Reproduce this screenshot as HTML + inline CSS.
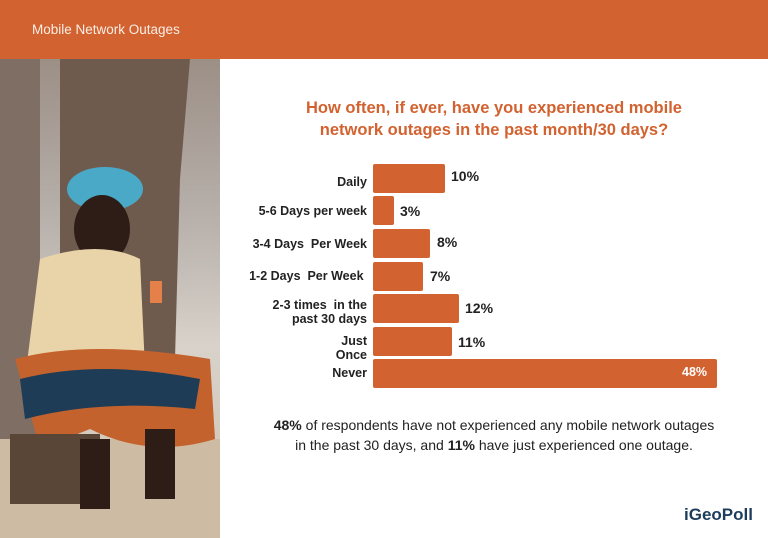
<!DOCTYPE html>
<html><head><meta charset="utf-8"><style>
*{margin:0;padding:0;box-sizing:border-box}
body{width:768px;height:538px;position:relative;background:#fff;font-family:"Liberation Sans",sans-serif;overflow:hidden}
.hdr{position:absolute;left:0;top:0;width:768px;height:59px;background:#D2622F}
.hdr span{position:absolute;left:32px;top:22px;color:#fbeee6;font-size:13.5px}
.photo{position:absolute;left:0;top:59px;width:220px;height:479px;background:linear-gradient(180deg,#9c8f86 0%,#b9b2ad 35%,#d8d2ca 60%,#cfc2b0 100%);overflow:hidden}
.title{position:absolute;left:220px;width:548px;top:97px;text-align:center;color:#D2622F;font-weight:bold;font-size:16.5px;line-height:22px}
.bar{position:absolute;left:373px;height:29px;background:#D2622F;border-radius:2px}
.lab{position:absolute;right:401px;text-align:right;font-weight:bold;font-size:12.5px;color:#222;line-height:14px}
.val{position:absolute;font-weight:bold;font-size:14px;color:#222}
.note{position:absolute;left:220px;width:548px;top:415px;text-align:center;font-size:14px;line-height:20px;color:#222}
.logo{position:absolute;left:684px;top:505px;font-size:17px;font-weight:bold;color:#1d3d5c}
</style></head><body>
<div class="hdr"><span>Mobile Network Outages</span></div>
<div class="photo">
<svg width="220" height="479">
<rect x="0" y="0" width="40" height="479" fill="#7f6e64"/>
<path d="M60 0 L190 0 L180 120 L175 300 L120 330 L60 320 Z" fill="#6f5b4e"/>
<rect x="0" y="380" width="220" height="99" fill="#cdbba3"/>
<ellipse cx="105" cy="130" rx="38" ry="22" fill="#4aa9c7"/>
<ellipse cx="102" cy="170" rx="28" ry="34" fill="#2d1d16"/>
<path d="M40 200 Q100 180 140 200 L145 310 L25 320 Z" fill="#e9d3a8"/>
<path d="M15 300 Q90 280 210 300 L215 380 Q150 400 90 370 L40 390 Z" fill="#c4622d"/>
<path d="M20 320 Q100 300 200 320 L195 350 Q100 340 25 360 Z" fill="#1f3c56"/>
<rect x="10" y="375" width="90" height="70" fill="#5a4636"/>
<rect x="80" y="380" width="30" height="70" fill="#2d1d16"/>
<rect x="145" y="370" width="30" height="70" fill="#2d1d16"/>
<rect x="150" y="222" width="12" height="22" fill="#e5804a"/>
</svg></div>
<div class="title">How often, if ever, have you experienced mobile<br>network outages in the past month/30 days?</div>

<div class="bar" style="top:164px;width:72px"></div>
<div class="bar" style="top:196px;width:21px"></div>
<div class="bar" style="top:229px;width:57px"></div>
<div class="bar" style="top:262px;width:50px"></div>
<div class="bar" style="top:294px;width:86px"></div>
<div class="bar" style="top:327px;width:79px"></div>
<div class="bar" style="top:359px;width:344px"></div>

<div class="lab" style="top:175px">Daily</div>
<div class="lab" style="top:204px">5-6 Days per week</div>
<div class="lab" style="top:237px">3-4 Days&nbsp; Per Week</div>
<div class="lab" style="top:269px">1-2 Days&nbsp; Per Week&nbsp;</div>
<div class="lab" style="top:298px">2-3 times&nbsp; in the<br>past 30 days</div>
<div class="lab" style="top:334px">Just<br>Once</div>
<div class="lab" style="top:366px">Never</div>

<div class="val" style="left:451px;top:168px">10%</div>
<div class="val" style="left:400px;top:203px">3%</div>
<div class="val" style="left:437px;top:234px">8%</div>
<div class="val" style="left:430px;top:268px">7%</div>
<div class="val" style="left:465px;top:300px">12%</div>
<div class="val" style="left:458px;top:334px">11%</div>
<div class="val" style="left:682px;top:365px;color:#fff;font-size:12.5px">48%</div>

<div class="note"><b>48%</b> of respondents have not experienced any mobile network outages<br>in the past 30 days, and <b>11%</b> have just experienced one outage.</div>
<div class="logo">iGeoPoll</div>
</body></html>
